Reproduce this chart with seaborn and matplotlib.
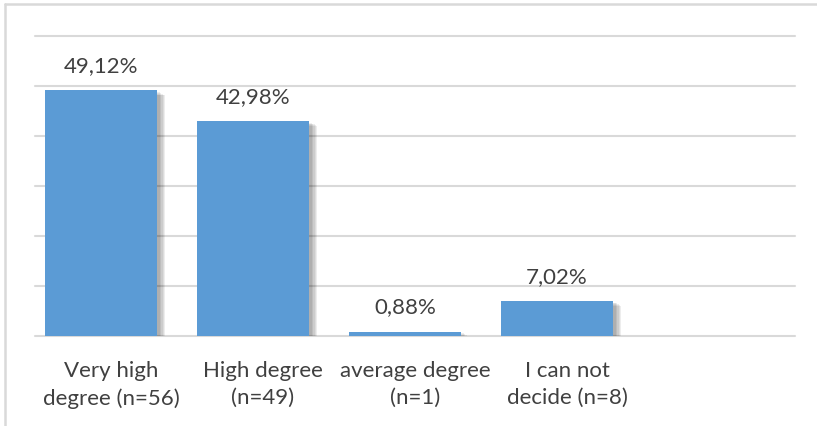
import matplotlib
matplotlib.use("Agg")
import matplotlib.pyplot as plt
import matplotlib.patheffects as pe
from matplotlib.lines import Line2D
import seaborn as sns
import pandas as pd

categories = ["Very high\ndegree (n=56)", "High degree\n(n=49)", "average degree\n(n=1)", "I can not\ndecide (n=8)"]
percent = [49.12, 42.98, 0.88, 7.02]
value_labels = ["49,12%", "42,98%", "0,88%", "7,02%"]

df = pd.DataFrame({"category": categories, "percent": percent})

sns.set_theme(style="white")
plt.rcParams["font.family"] = ["Lato", "DejaVu Sans"]

BAR = "#5B9BD5"
GRID = "#D9D9D9"
TEXT = "#404040"

fig = plt.figure(figsize=(8.17, 4.27), dpi=100)
fig.patch.set_facecolor("white")
ax = fig.add_axes([35 / 817, 90 / 427, 760 / 817, 300 / 427])

sns.barplot(data=df, x="category", y="percent", order=categories,
            color=BAR, saturation=1, width=0.738, ax=ax, zorder=3)

# soft drop shadow to the lower right of each bar
shadow = [pe.SimplePatchShadow(offset=(d, -d * 0.6), shadow_rgbFace="#000000", alpha=0.07)
          for d in (6, 5, 4, 3, 2)]
for p in ax.patches:
    p.set_x(p.get_x() - 0.066)
    p.set_edgecolor("none")
    p.set_path_effects(shadow + [pe.Normal()])

for p, lab in zip(ax.patches, value_labels):
    ax.annotate(lab, (p.get_x() + p.get_width() / 2, p.get_height()),
                xytext=(0, 11), textcoords="offset points",
                ha="center", va="bottom", fontsize=16, color=TEXT)

ax.set_xlim(-0.5, 4.5)
ax.set_ylim(0, 60)
ax.set_yticks(range(0, 61, 10))
ax.set_yticklabels([])
ax.yaxis.grid(True, color=GRID, linewidth=1.5)
ax.set_axisbelow(True)
for ln in ax.get_ygridlines():
    ln.set_clip_on(False)
for s in ax.spines.values():
    s.set_visible(False)
ax.tick_params(axis="both", length=0)
ax.tick_params(axis="x", pad=17.5, labelsize=16, labelcolor=TEXT)
ax.set_xlabel("")
ax.set_ylabel("")
for t in ax.get_xticklabels():
    t.set_linespacing(1.4)

# chart frame (top and left edges)
fig.add_artist(Line2D([5 / 817, 1], [1 - 5 / 427, 1 - 5 / 427], color=GRID, linewidth=1.8))
fig.add_artist(Line2D([5 / 817, 5 / 817], [0, 1 - 5 / 427], color=GRID, linewidth=1.8))

fig.savefig("out.png", dpi=100, facecolor="white")
